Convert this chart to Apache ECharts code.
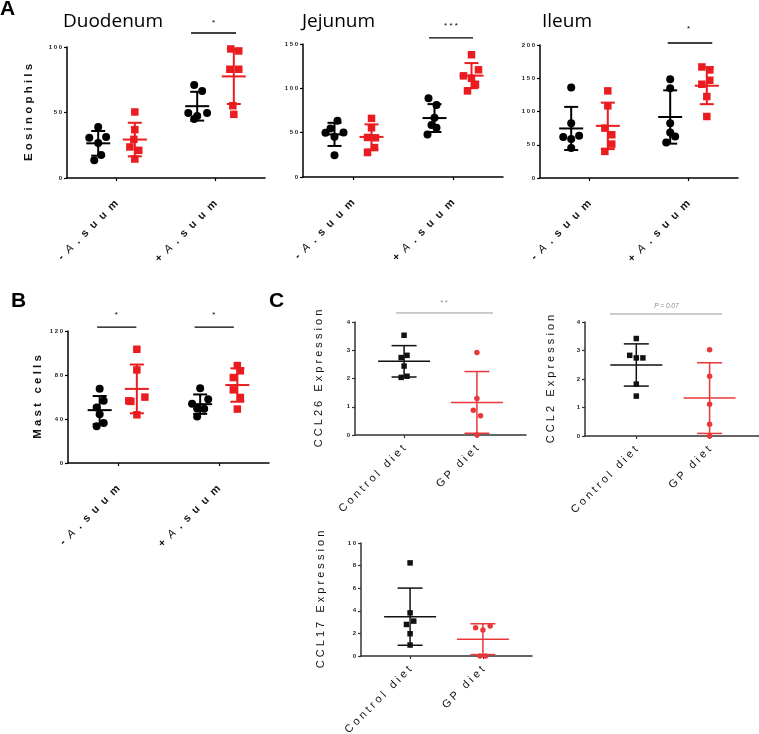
<!DOCTYPE html>
<html><head><meta charset="utf-8">
<script src="https://cdn.jsdelivr.net/npm/echarts@6/dist/echarts.min.js"></script>
<style>html,body{margin:0;padding:0;background:#fff}#c{width:759px;height:734px}</style>
</head><body><div id="c"></div>
<script>
// ---------------- DATA ----------------
const groupLabels = ['- A. suum', '+ A. suum'];
const dietLabels = ['Control diet', 'GP diet'];

// Panel A – Eosinophils, Duodenum
const duoControlMinus = [38.9, 30.8, 31.3, 26.7, 17.6, 13.5];
const duoGPMinus      = [50.4, 36.9, 29.5, 23.7, 21.1, 14.5];
const duoControlPlus  = [71.0, 66.4, 49.6, 49.6, 47.3, 45.0];
const duoGPPlus       = [98.5, 97.0, 83.0, 83.0, 55.2, 48.6];
// Panel A – Eosinophils, Jejunum
const jejControlMinus = [63.5, 54.8, 50.2, 49.9, 45.3, 24.6];
const jejGPMinus      = [66.1, 55.5, 44.6, 44.2, 33.2, 27.6];
const jejControlPlus  = [88.8, 81.2, 66.7, 58.6, 55.5, 48.0];
const jejGPPlus       = [137.9, 120.9, 114.1, 111.4, 104.6, 97.1];
// Panel A – Eosinophils, Ileum
const ileControlMinus = [136, 82.5, 61.5, 63.5, 58.5, 45];
const ileGPMinus      = [131, 108.5, 75, 65, 51, 40];
const ileControlPlus  = [148.5, 135, 82.5, 68.5, 62.5, 53.5];
const ileGPPlus       = [167, 162.5, 147, 141, 122.5, 92.5];
// Panel B – Mast cells
const mastControlMinus = [67.4, 56.5, 50.5, 44.4, 33.3, 36.3];
const mastGPMinus      = [103.4, 84.6, 59.9, 56.5, 56.0, 43.8];
const mastControlPlus  = [68.0, 58.0, 53.8, 49.6, 49.3, 42.3];
const mastGPPlus       = [88.6, 83.8, 77.7, 66.5, 59.6, 49.0];
// Panel C – chemokine expression
const ccl26Control = [3.53, 2.82, 2.74, 2.44, 2.08, 2.04];
const ccl26GP      = [2.92, 1.29, 0.88, 0.68, 0.0];
const ccl2Control  = [3.42, 2.83, 2.74, 2.74, 1.82, 1.40];
const ccl2GP       = [3.03, 2.10, 1.11, 0.41, 0.0];
const ccl17Control = [8.24, 3.82, 3.09, 2.79, 1.97, 0.97];
const ccl17GP      = [2.65, 2.50, 2.29, 0.0, 0.0];

// horizontal scatter spread of the dots (hundredths of a category)
const jDuoCM = [0,-9,8,0,3,-4], jDuoGM = [0,0,-1,-5,4,0], jDuoCP = [-3,5,-9,10,0,-3], jDuoGP = [-3,5,-4,5,-1,0];
const jJejCM = [3,-4,9,-9,0,0], jJejGM = [0,0,-4,4,3,-4], jJejCP = [-6,2,0,-3,2,-7], jJejGP = [0,7,-8,0,4,-4];
const jIleCM = [0,0,-8,8,0,0], jIleGM = [0,0,-3,4,4,-3], jIleCP = [0,0,0,0,5,-4], jIleGP = [-5,3,3,-5,0,0];
const jMastCM = [0,4,-3,0,-3,4], jMastGM = [0,0,8,-8,-6,0], jMastCP = [0,8,-8,-3,4,-3], jMastGP = [0,3,-4,-4,3,0];
const j26C = [0,4,-4,0,4,-4], j26G = [0,0,-5,5,0];
const j2C = [0,-9,0,9,0,0], j2G = [0,0,0,0,0];
const j17C = [0,0,5,-5,0,0], j17G = [10,-10,0,-4,4];

// ---------------- HELPERS ----------------
const FONT = '"Liberation Sans", Arial, sans-serif';
const RED_AB = '#ea1c1f', RED_C = '#e8383a';
function mean(a){return a.reduce((s,v)=>s+v,0)/a.length;}
function sd(a){const m=mean(a);return Math.sqrt(a.reduce((s,v)=>s+(v-m)*(v-m),0)/(a.length-1));}
function spaced(s, sep){return s.split('').join(sep || ' ');}
function suumLabel(s){ // "- A. suum" -> spaced with italic A
  const chars = s.replace(/ /g,'').split('');
  return chars.map(c => c === 'A' ? '{i|A}' : c).join('  ');
}

const grids=[], xAxes=[], yAxes=[], series=[];

function errRender(color, meanHalf, capHalf, lw){
  return function(params, api){
    const x=api.value(0), m=api.value(1), s=api.value(2);
    const pm=api.coord([x,m]), pt=api.coord([x,m+s]), pb=api.coord([x,m-s]);
    const st=()=>({stroke:color, lineWidth:lw});
    return {type:'group', children:[
      {type:'line', shape:{x1:pt[0],y1:pt[1],x2:pb[0],y2:pb[1]}, style:st()},
      {type:'line', shape:{x1:pt[0]-capHalf,y1:pt[1],x2:pt[0]+capHalf,y2:pt[1]}, style:st()},
      {type:'line', shape:{x1:pb[0]-capHalf,y1:pb[1],x2:pb[0]+capHalf,y2:pb[1]}, style:st()},
      {type:'line', shape:{x1:pm[0]-meanHalf,y1:pm[1],x2:pm[0]+meanHalf,y2:pm[1]}, style:st()}
    ]};
  };
}
function sigRender(p){
  return function(params, api){
    const a=api.coord([api.value(0), api.value(2)]), b=api.coord([api.value(1), api.value(2)]);
    const t=api.coord([api.value(3), api.value(4)]);
    const s=p.sig[params.dataIndex];
    return {type:'group', children:[
      {type:'line', shape:{x1:a[0],y1:a[1],x2:b[0],y2:b[1]}, style:{stroke:p.sigColor, lineWidth:p.sigWidth}},
      {type:'text', x:t[0], y:t[1], style:{text:s.text, fill:p.sigTextColor, fontSize:s.size, fontFamily:FONT,
        fontStyle:s.italic?'italic':'normal', align:'center', verticalAlign:'middle'}}
    ]};
  };
}

function addPanel(p){
  const i = grids.length;
  grids.push({left:p.left, top:p.top, width:p.width, height:p.height, containLabel:false, outerBoundsMode:'none'});
  xAxes.push({type:'value', gridIndex:i, min:p.xmin, max:p.xmax,
    axisLine:{show:true, onZero:false, lineStyle:{color:p.axisColor, width:1.5}},
    axisTick:{show:true, customValues:[0,1], length:3, lineStyle:{color:p.axisColor, width:1.2}},
    axisLabel:{show:true, customValues:[0,1], rotate:45, margin:p.xMargin, color:'#111',
      fontFamily:FONT, fontSize:p.xFont, fontWeight:p.xBold?'bold':'normal',
      formatter:v=>p.xLabel(Math.round(v)),
      rich:{i:{fontStyle:'italic', fontWeight:'normal', fontFamily:FONT, fontSize:p.xFont, color:'#111'}}},
    splitLine:{show:false}});
  yAxes.push({type:'value', gridIndex:i, min:0, max:p.ymax, interval:p.yint,
    name:p.yName ? spaced(p.yName) : '', nameLocation:'middle', nameGap:p.nameGap,
    nameTextStyle:{fontFamily:FONT, fontSize:p.nameSize, fontWeight:p.nameBold?'bold':'normal', color:'#111'},
    axisLine:{show:true, onZero:false, lineStyle:{color:p.axisColor, width:1.5}},
    axisTick:{show:true, length:3, lineStyle:{color:p.axisColor, width:1.2}},
    axisLabel:{fontSize:6, fontWeight:'bold', fontFamily:FONT, color:'#222', margin:5, formatter:v=>spaced(String(v))},
    splitLine:{show:false}});
  p.groups.forEach(g=>{
    series.push({type:'scatter', xAxisIndex:i, yAxisIndex:i, symbol:g.symbol, symbolSize:g.size, silent:true,
      itemStyle:{color:g.color, opacity:1}, z:3,
      data:g.values.map((v,k)=>[g.x + g.jit[k]/100, v])});
    series.push({type:'custom', xAxisIndex:i, yAxisIndex:i, silent:true, clip:false, z:4,
      renderItem:errRender(g.color, p.meanHalf, p.capHalf, p.errWidth),
      data:[[g.x, mean(g.values), sd(g.values)]]});
  });
  if (p.sig){
    series.push({type:'custom', xAxisIndex:i, yAxisIndex:i, silent:true, clip:false, z:5,
      renderItem:sigRender(p), data:p.sig.map(s=>[s.x1, s.x2, s.y, s.tx, s.ty])});
  }
}

const OFF = 0.185;
function abGroups(cm, jcm, gm, jgm, cp, jcp, gp, jgp){
  return [
    {values:cm, jit:jcm, x:0-OFF, color:'#000', symbol:'circle', size:8},
    {values:gm, jit:jgm, x:0+OFF, color:RED_AB, symbol:'rect', size:7.5},
    {values:cp, jit:jcp, x:1-OFF, color:'#000', symbol:'circle', size:8},
    {values:gp, jit:jgp, x:1+OFF, color:RED_AB, symbol:'rect', size:7.5}
  ];
}
function cGroups(c, jc, g, jg){
  return [
    {values:c, jit:jc, x:0, color:'#111', symbol:'rect', size:5.5},
    {values:g, jit:jg, x:1, color:RED_C, symbol:'circle', size:5.5}
  ];
}
const abBase = {xmin:-0.5, xmax:1.5, axisColor:'#000', xMargin:24, xFont:11, xBold:true,
  xLabel:v=>suumLabel(groupLabels[v]), nameSize:11.5, nameBold:true, meanHalf:12, capHalf:7, errWidth:2,
  sigColor:'#000', sigWidth:1.3, sigTextColor:'#000'};
const cBase = {xmin:-0.674, xmax:1.674, axisColor:'#333', xMargin:12, xFont:11, xBold:false,
  xLabel:v=>spaced(dietLabels[v]), nameSize:11, nameBold:false, meanHalf:26, capHalf:12.5, errWidth:1.5,
  sigColor:'#9a9a9a', sigWidth:1, sigTextColor:'#888'};

addPanel(Object.assign({}, abBase, {left:67, top:47, width:198, height:131, ymax:100, yint:50,
  yName:'Eosinophils', nameGap:32,
  groups:abGroups(duoControlMinus,jDuoCM,duoGPMinus,jDuoGM,duoControlPlus,jDuoCP,duoGPPlus,jDuoGP),
  sig:[{x1:0.753, x2:1.207, y:110.7, tx:0.98, ty:118.5, text:'*', size:8}]}));
addPanel(Object.assign({}, abBase, {left:303, top:44, width:200, height:133, ymax:150, yint:50,
  groups:abGroups(jejControlMinus,jJejCM,jejGPMinus,jJejGM,jejControlPlus,jJejCP,jejGPPlus,jJejGP),
  sig:[{x1:0.76, x2:1.2, y:156.8, tx:0.98, ty:170, text:'* * *', size:8}]}));
addPanel(Object.assign({}, abBase, {left:540, top:45, width:198, height:133, ymax:200, yint:50,
  groups:abGroups(ileControlMinus,jIleCM,ileGPMinus,jIleGM,ileControlPlus,jIleCP,ileGPPlus,jIleGP),
  sig:[{x1:0.79, x2:1.24, y:203, tx:1.0, ty:224, text:'*', size:8}]}));
addPanel(Object.assign({}, abBase, {left:68, top:331, width:201, height:132, ymax:120, yint:40,
  yName:'Mast cells', nameGap:24,
  groups:abGroups(mastControlMinus,jMastCM,mastGPMinus,jMastGM,mastControlPlus,jMastCP,mastGPPlus,jMastGP),
  sig:[{x1:-0.21, x2:0.18, y:123.6, tx:-0.02, ty:134.5, text:'*', size:8},
       {x1:0.76, x2:1.15, y:123.6, tx:0.95, ty:134.5, text:'*', size:8}]}));
addPanel(Object.assign({}, cBase, {left:355, top:322, width:171, height:113, ymax:4, yint:1,
  yName:'CCL26 Expression', nameGap:31,
  groups:cGroups(ccl26Control,j26C,ccl26GP,j26G),
  sig:[{x1:-0.11, x2:1.22, y:4.32, tx:0.55, ty:4.67, text:'* *', size:7}]}));
addPanel(Object.assign({}, cBase, {left:585, top:322, width:174, height:114, xmin:-0.7, xmax:1.674, ymax:4, yint:1,
  yName:'CCL2 Expression', nameGap:29,
  groups:cGroups(ccl2Control,j2C,ccl2GP,j2G),
  sig:[{x1:-0.36, x2:1.17, y:4.28, tx:0.41, ty:4.56, text:'P = 0.07', size:6.5, italic:true}]}));
addPanel(Object.assign({}, cBase, {left:361, top:543, width:171, height:113, ymax:10, yint:2,
  yName:'CCL17 Expression', nameGap:35,
  groups:cGroups(ccl17Control,j17C,ccl17GP,j17G)}));

const titleFont = {fontFamily:'"Open Sans", "Noto Sans", sans-serif', fontSize:19, fontWeight:'normal', color:'#000'};
const letterFont = {fontFamily:FONT, fontSize:21, fontWeight:'bold', color:'#000'};
const titles = [
  {text:'A', left:0, top:-1, padding:0, textStyle:letterFont},
  {text:'B', left:11, top:291, padding:0, textStyle:letterFont},
  {text:'C', left:269, top:291, padding:0, textStyle:letterFont},
  {text:'Duodenum', left:63, top:12, padding:0, textStyle:titleFont},
  {text:'Jejunum', left:302, top:12, padding:0, textStyle:titleFont},
  {text:'Ileum', left:542, top:12, padding:0, textStyle:titleFont}
];

const chart = echarts.init(document.getElementById('c'), null, {renderer:'canvas'});
chart.setOption({animation:false, backgroundColor:'#fff', title:titles,
  grid:grids, xAxis:xAxes, yAxis:yAxes, series:series, tooltip:{show:false}});
</script></body></html>
